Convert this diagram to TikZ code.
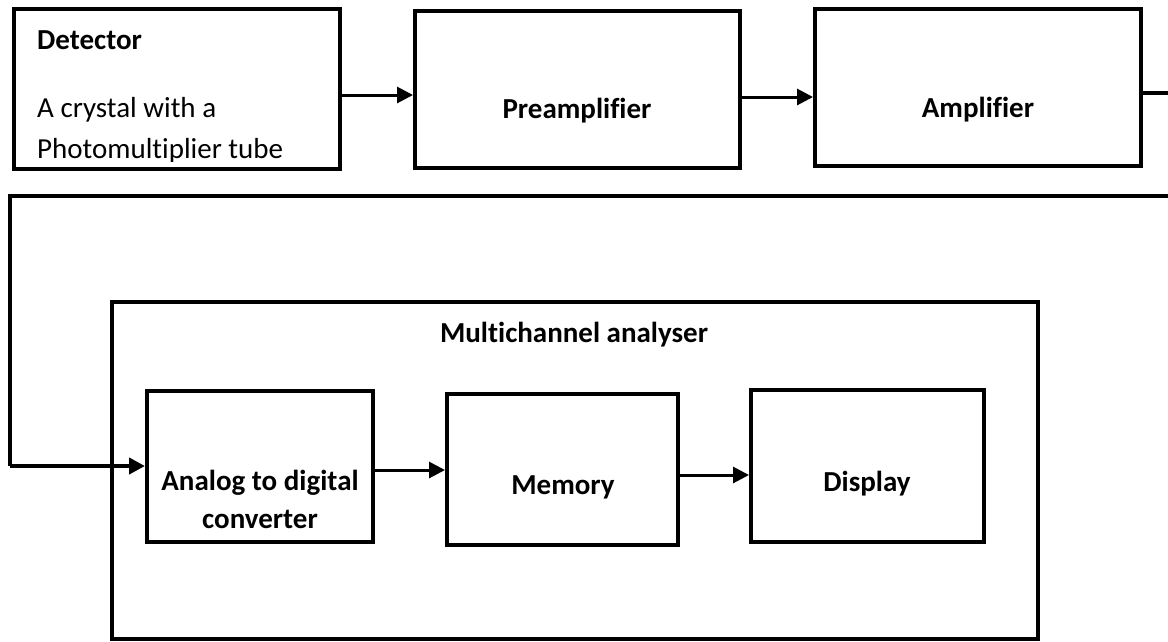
\documentclass[tikz,border=0pt]{standalone}
\usepackage{fontspec}
\setmainfont{Carlito}[Ligatures=NoCommon]
\usetikzlibrary{arrows.meta}
\begin{document}
\begin{tikzpicture}[x=1pt,y=-1pt,
  blockbox/.style={draw=black,line width=4pt,minimum width=#1,inner sep=0pt},
  lbl/.style={font=\fontsize{29}{35}\selectfont\bfseries,inner sep=0pt,anchor=base},
  plain/.style={font=\fontsize{29}{35}\selectfont,inner sep=0pt,anchor=base west},
  flow/.style={line width=3pt,-{Triangle[length=16pt,width=16pt]}},
  feed/.style={line width=4pt},
]
\useasboundingbox (0,0) rectangle (1168,641);

% top row of blocks
\node[blockbox=326pt,minimum height=160pt] (det) at (177,89) {};
\node[blockbox=325pt,minimum height=157pt] (pre) at (577.5,89.5) {};
\node[blockbox=326pt,minimum height=157pt] (amp) at (978,87.5) {};

% multichannel analyser and its stages
\node[blockbox=926pt,minimum height=337pt] (mca) at (575,470.5) {};
\node[blockbox=226pt,minimum height=151pt] (adc) at (260,466.5) {};
\node[blockbox=231pt,minimum height=151pt] (mem) at (562.5,469.5) {};
\node[blockbox=233pt,minimum height=152pt] (dsp) at (867.5,466) {};

% labels
\node[lbl,anchor=base west] (detT) at (37,49) {Detector};
\node[plain] (detL1) at (37,117) {A crystal with a};
\begin{scope}
  \clip (16,11) rectangle (338,161);
  \node[plain] (detL2) at (37,158) {Photomultiplier tube};
\end{scope}
\node[lbl] (preT) at (577,118) {Preamplifier};
\node[lbl] (ampT) at (978,117) {Amplifier};
\node[lbl] (mcaT) at (574,342) {Multichannel analyser};
\node[lbl] (adcT1) at (260,490) {Analog to digital};
\node[lbl] (adcT2) at (260,528) {converter};
\node[lbl] (memT) at (563,494) {Memory};
\node[lbl] (dspT) at (867,491) {Display};

% free ends of the lines that leave the page on the right
\coordinate (ampOut) at (1168,93);
\coordinate (loopR) at (1168,196);
\coordinate (loopL) at (10,196);
\coordinate (loopB) at (10,466);

% connectors
\draw[flow] (det.east |- 0,95) -- (pre.west |- 0,95);
\draw[flow] (pre.east |- 0,97) -- (amp.west |- 0,97);
\draw[feed] (amp.east |- 0,93) -- (ampOut);
\draw[feed] (loopR) -- (loopL) -- (loopB);
\draw[flow,line width=4pt] (loopB) -- (adc.west |- 0,466);
\draw[flow] (adc.east |- 0,470) -- (mem.west |- 0,470);
\draw[flow] (mem.east |- 0,475) -- (dsp.west |- 0,475);
\end{tikzpicture}
\end{document}
